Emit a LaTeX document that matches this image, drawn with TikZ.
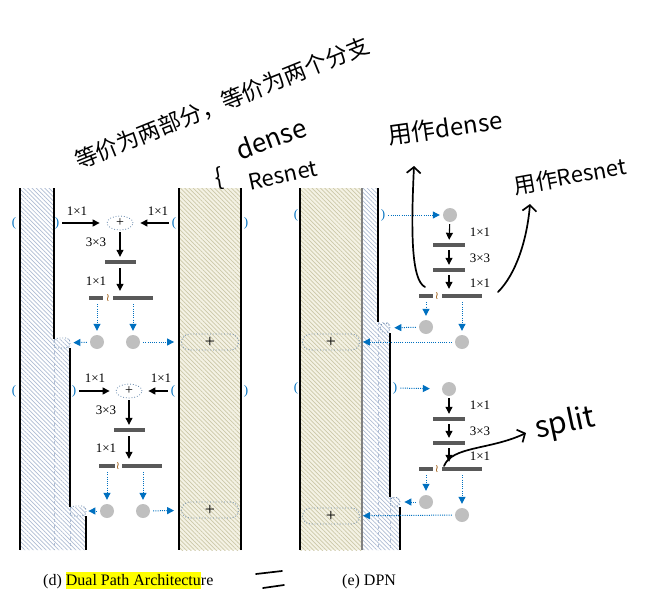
\documentclass[tikz,border=0pt]{standalone}
\usepackage{fontspec}
\setmainfont{Liberation Serif}
\newfontfamily\cjk{Noto Sans CJK SC}
\newfontfamily\djv{DejaVu Sans}
\usetikzlibrary{arrows.meta,patterns.meta,shapes.geometric}
\definecolor{cblue}{HTML}{0070C0}
\definecolor{cbar}{HTML}{595959}
\definecolor{ccirc}{HTML}{BFBFBF}
\definecolor{ctanbg}{HTML}{F4F2E4}
\definecolor{ctanln}{HTML}{CCC8A8}
\definecolor{cbluln}{HTML}{AEBCD3}
\definecolor{cdot}{HTML}{5F82A8}
\definecolor{csq}{HTML}{A0601A}
\definecolor{hly}{HTML}{FFFF00}
\tikzset{
  lbl/.style={font=\fontsize{13}{13}\selectfont, inner sep=0pt},
  bar/.style={fill=cbar, minimum height=4pt, inner sep=0pt, draw=none},
  gc/.style={circle, fill=ccirc, minimum size=14pt, inner sep=0pt},
  conv/.style={line width=1.1pt, -{Triangle[length=7pt,width=7pt]}},
  skip/.style={cblue, line width=1pt, dash pattern=on 1pt off 1.2pt, -{Triangle[length=7pt,width=7pt]}},
  brk/.style={cblue, font=\fontsize{13}{13}\selectfont, inner sep=0pt},
  addell/.style={ellipse, draw=cdot, dotted, line width=0.8pt, minimum width=26pt, minimum height=14pt, inner sep=0pt, font=\fontsize{14}{14}\selectfont},
  addbox/.style={rounded corners=8pt, draw=cdot, dotted, line width=0.8pt, minimum width=57pt, minimum height=16pt, inner sep=0pt, font=\fontsize{18}{18}\selectfont},
  smallbox/.style={rounded corners=4pt, draw=cdot, dotted, line width=0.8pt, minimum width=16pt, minimum height=10pt, inner sep=0pt},
  smallcirc/.style={circle, draw=cdot, dotted, line width=0.8pt, minimum size=10pt, inner sep=0pt},
  sq/.style={csq, font=\djv\fontsize{11}{11}\selectfont, inner sep=0pt},
  hand/.style={inner sep=0pt},
  handline/.style={line width=1.7pt, line cap=round},
  handarr/.style={line width=1.7pt, line cap=round, -{Straight Barb[length=6pt,width=14pt,line width=1.7pt]}},
  edge/.style={line width=1.5pt},
  bluehatch/.style={pattern={Lines[angle=-45,distance=3pt,line width=0.7pt]}, pattern color=cbluln},
  tanhatch/.style={preaction={fill=ctanbg}, pattern={Lines[angle=-45,distance=3pt,line width=0.7pt]}, pattern color=ctanln},
  faint/.style={cbluln, dashed, line width=0.8pt},
  capt/.style={font=\fontsize{16}{16}\selectfont, inner sep=0pt, anchor=base west}
}
\begin{document}
\begin{tikzpicture}[x=1pt,y=-1pt]
\useasboundingbox (0,0) rectangle (650,610);

% ---------------- (d) columns ----------------
\fill[bluehatch] (20,188) -- (54,188) -- (54,339) -- (70,339) -- (70,507) -- (86,507) -- (86,550) -- (20,550) -- cycle;
\draw[faint] (54,339) -- (54,550);
\draw[faint] (70,507) -- (70,550);
\draw[edge] (20,188) -- (20,550);
\draw[edge] (54,188) -- (54,339);
\draw[edge] (70,348) -- (70,507);
\draw[edge] (86,516) -- (86,550);
\fill[tanhatch] (179,188) rectangle (241,550);
\draw[edge] (179,188) -- (179,550);
\draw[edge] (241,188) -- (241,550);

% ---------------- (e) columns ----------------
\fill[tanhatch] (300,188) rectangle (362,550);
\fill[bluehatch] (362,188) -- (378,188) -- (378,322) -- (390,322) -- (390,497) -- (400,497) -- (400,550) -- (362,550) -- cycle;
\draw[faint] (378,322) -- (378,550);
\draw[faint] (390,497) -- (390,550);
\draw[edge] (300,188) -- (300,550);
\draw[line width=1.5pt, gray] (362,188) -- (362,550);
\draw[edge] (378,188) -- (378,322);
\draw[edge] (390,333) -- (390,497);
\draw[edge] (400,507) -- (400,550);

% ---------------- (d) block 1 ----------------
\node[brk] (dA1) at (14,223) {(};
\node[brk] (dB1) at (57,223) {)};
\node[brk] (dC1) at (174,223) {(};
\node[brk] (dD1) at (246,223) {)};
\node[addell] (dp1) at (120,223) {+};
\draw[conv, shorten <=3pt, shorten >=7pt] (dB1) -- (dp1);
\draw[conv, shorten <=3pt, shorten >=7pt] (dC1) -- (dp1);
\node[lbl] (dl11) at (77,211) {1×1};
\node[lbl] (dl12) at (158,211) {1×1};
\node[bar, minimum width=31pt] (db1) at (120,262) {};
\draw[conv, shorten <=2pt, shorten >=3pt] (dp1) -- (db1);
\node[lbl] (dl13) at (96,242) {3×3};
\node[bar, minimum width=14pt] (db2l) at (96,298) {};
\node[sq] (dsq1) at (108,298) {≀};
\node[bar, minimum width=40pt] (db2r) at (133,298) {};
\draw[conv, shorten <=4pt, shorten >=5pt] (db1.south) -- (db1.south |- db2r.north);
\node[lbl] (dl14) at (96,281) {1×1};
\node[gc] (dc1) at (97,342) {};
\node[gc] (dc2) at (133,342) {};
\draw[skip, shorten <=4pt, shorten >=4pt] (dc1 |- db2l.south) -- (dc1.north);
\draw[skip, shorten <=4pt, shorten >=4pt] (dc2 |- db2r.south) -- (dc2.north);
\node[smallbox] (ds1) at (62,343) {};
\node[addbox] (da1) at (210,342) {+};
\draw[skip, shorten <=3pt, shorten >=3pt] (dc1) -- (ds1);
\draw[skip, shorten <=3pt, shorten >=7pt] (dc2) -- (da1);

% ---------------- (d) block 2 ----------------
\node[brk] (dA2) at (14,391) {(};
\node[brk] (dB2) at (74,391) {)};
\node[brk] (dC2) at (173,391) {(};
\node[brk] (dD2) at (246,391) {)};
\node[addell] (dp2) at (129,391) {+};
\draw[conv, shorten <=3pt, shorten >=6pt] (dB2) -- (dp2);
\draw[conv, shorten <=3pt, shorten >=6pt] (dC2) -- (dp2);
\node[lbl] (dl21) at (95,378) {1×1};
\node[lbl] (dl22) at (161,378) {1×1};
\node[bar, minimum width=31pt] (db3) at (129,430) {};
\draw[conv, shorten <=2pt, shorten >=3pt] (dp2) -- (db3);
\node[lbl] (dl23) at (106,410) {3×3};
\node[bar, minimum width=16pt] (db4l) at (107,466) {};
\node[sq] (dsq2) at (118,466) {≀};
\node[bar, minimum width=40pt] (db4r) at (142,466) {};
\draw[conv, shorten <=4pt, shorten >=5pt] (db3.south) -- (db3.south |- db4r.north);
\node[lbl] (dl24) at (106,448) {1×1};
\node[gc] (dc3) at (107,511) {};
\node[gc] (dc4) at (143,511) {};
\draw[skip, shorten <=4pt, shorten >=4pt] (dc3 |- db4l.south) -- (dc3.north);
\draw[skip, shorten <=4pt, shorten >=4pt] (dc4 |- db4r.south) -- (dc4.north);
\node[smallbox] (ds2) at (78,511) {};
\node[addbox] (da2) at (210,510) {+};
\draw[skip, shorten <=3pt, shorten >=2pt] (dc3) -- (ds2);
\draw[skip, shorten <=3pt, shorten >=7pt] (dc4) -- (da2);

% ---------------- (e) block 1 ----------------
\node[brk] (eA1) at (296,215) {(};
\node[brk] (eB1) at (383,215) {)};
\node[gc] (ec0) at (450,215) {};
\draw[skip, shorten <=3pt, shorten >=3pt] (eB1) -- (ec0);
\node[bar, minimum width=32pt] (eb1) at (449,245) {};
\node[bar, minimum width=32pt] (eb2) at (449,270) {};
\draw[conv, shorten <=2pt, shorten >=3pt] (ec0) -- (eb1);
\draw[conv, shorten <=3pt, shorten >=3pt] (eb1) -- (eb2);
\node[bar, minimum width=14pt] (eb3l) at (426,296) {};
\node[sq] (esq1) at (437,296) {≀};
\node[bar, minimum width=40pt] (eb3r) at (462,296) {};
\draw[conv, shorten <=3pt, shorten >=5pt] (eb2.south) -- (eb2.south |- eb3r.north);
\node[lbl] (el11) at (480,232) {1×1};
\node[lbl] (el12) at (480,258) {3×3};
\node[lbl] (el13) at (480,283) {1×1};
\node[gc] (ec1) at (426,327) {};
\node[gc] (ec2) at (462,342) {};
\draw[skip, shorten <=4pt, shorten >=4pt] (ec1 |- eb3l.south) -- (ec1.north);
\draw[skip, shorten <=4pt, shorten >=4pt] (ec2 |- eb3r.south) -- (ec2.north);
\node[smallcirc] (es1) at (385,328) {};
\node[addbox] (ea1) at (331,342) {+};
\draw[skip, shorten <=3pt, shorten >=4pt] (ec1) -- (es1);
\draw[skip, shorten <=3pt, shorten >=3pt] (ec2) -- (ea1);

% ---------------- (e) block 2 ----------------
\node[brk] (eA2) at (296,388) {(};
\node[brk] (eB2) at (395,388) {)};
\node[gc] (ec3) at (449,389) {};
\draw[skip, shorten <=3pt, shorten >=12pt] (eB2) -- (ec3);
\node[bar, minimum width=32pt] (eb4) at (449,419) {};
\node[bar, minimum width=32pt] (eb5) at (449,443) {};
\draw[conv, shorten <=2pt, shorten >=3pt] (ec3) -- (eb4);
\draw[conv, shorten <=3pt, shorten >=3pt] (eb4) -- (eb5);
\node[bar, minimum width=14pt] (eb6l) at (426,469) {};
\node[sq] (esq2) at (437,469) {≀};
\node[bar, minimum width=40pt] (eb6r) at (462,469) {};
\draw[conv, shorten <=3pt, shorten >=5pt] (eb5.south) -- (eb5.south |- eb6r.north);
\node[lbl] (el21) at (480,405) {1×1};
\node[lbl] (el22) at (480,431) {3×3};
\node[lbl] (el23) at (480,456) {1×1};
\node[gc] (ec4) at (426,502) {};
\node[gc] (ec5) at (462,515) {};
\draw[skip, shorten <=4pt, shorten >=4pt] (ec4 |- eb6l.south) -- (ec4.north);
\draw[skip, shorten <=4pt, shorten >=4pt] (ec5 |- eb6r.south) -- (ec5.north);
\node[smallcirc] (es2) at (395,502) {};
\node[addbox] (ea2) at (331,516) {+};
\draw[skip, shorten <=3pt, shorten >=4pt] (ec4) -- (es2);
\draw[skip, shorten <=3pt, shorten >=3pt] (ec5) -- (ea2);

% ---------------- captions ----------------
\node[capt] (capd) at (43,585) {(d) {\fboxsep=0pt\colorbox{hly}{\rule[-4pt]{0pt}{17pt}Dual Path Architectu}}re};
\node[capt] (cape) at (342,585) {(e) DPN};

% ---------------- handwriting ----------------
\node[hand, rotate=22, font=\cjk\fontsize{22.5}{22.5}\selectfont] (hw1) at (222,103) {等价为两部分，等价为两个分支};
\node[hand, rotate=10, font=\cjk\fontsize{24}{24}\selectfont] (hwb) at (219,178) {\{};
\node[hand, rotate=20, font=\cjk\fontsize{26}{26}\selectfont] (hwd) at (271,138) {dense};
\node[hand, rotate=12, font=\cjk\fontsize{22}{22}\selectfont] (hwr) at (283,175) {Resnet};
\node[hand, rotate=8, font=\cjk\fontsize{24}{24}\selectfont] (hwd2) at (445,128) {用作dense};
\node[hand, rotate=10, font=\cjk\fontsize{22}{22}\selectfont] (hwr2) at (570,176) {用作Resnet};
\node[hand, rotate=12, font=\cjk\fontsize{30}{30}\selectfont] (hws) at (565,424) {split};

\coordinate (hAs) at (425,287);
\coordinate (hAe) at (414,166);
\draw[handarr] (hAs) .. controls (411,280) and (411,230) .. (hAe);
\coordinate (hBs) at (498,292);
\coordinate (hBe) at (530,204);
\draw[handarr] (hBs) .. controls (516,274) and (527,240) .. (hBe);
\coordinate (hCs) at (444,466);
\coordinate (hCe) at (526,433);
\draw[handarr] (hCs) .. controls (452,446) and (490,450) .. (hCe);

\draw[handline] (256,574) -- (282,571);
\draw[handline] (263,588) -- (284,585);
\end{tikzpicture}
\end{document}
